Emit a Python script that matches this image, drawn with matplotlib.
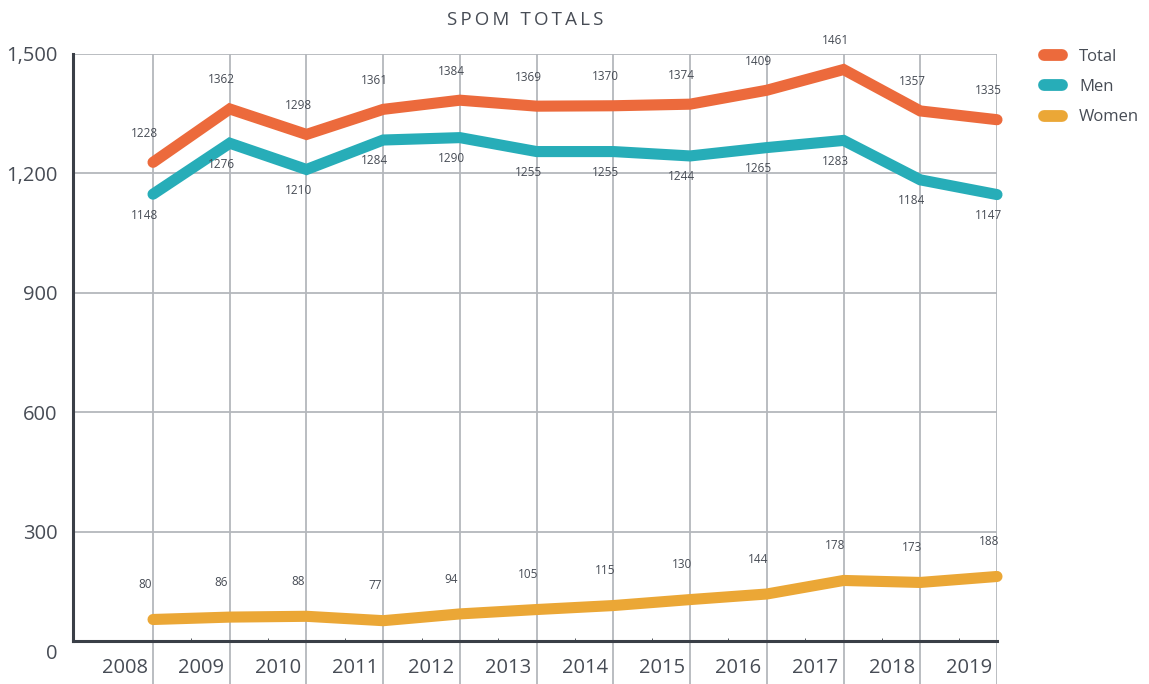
import numpy as np
import matplotlib
matplotlib.use("Agg")
import matplotlib.pyplot as plt
from matplotlib.lines import Line2D

years = [2008, 2009, 2010, 2011, 2012, 2013, 2014, 2015, 2016, 2017, 2018, 2019]
total = [1228, 1362, 1298, 1361, 1384, 1369, 1370, 1374, 1409, 1461, 1357, 1335]
men = [1148, 1276, 1210, 1284, 1290, 1255, 1255, 1244, 1265, 1283, 1184, 1147]
women = [80, 86, 88, 77, 94, 105, 115, 130, 144, 178, 173, 188]
y_ticks = [0, 300, 600, 900, 1200, 1500]

c_total = "#ec6a3c"
c_men = "#27adb8"
c_women = "#eba736"
txt = "#474c55"
grid = "#b4b7bc"

plt.rcParams['font.family'] = ['Open Sans', 'DejaVu Sans']

fig = plt.figure(figsize=(11.49, 6.84), dpi=100)
ax = fig.add_axes([73 / 1149, 0.0, 924 / 1149, 630 / 684])
ax.set_xlim(2008 - 80 / 76.7, 2019)
ax.set_ylim(-82, 1500)

# grid
for yv in y_ticks[1:]:
    ax.axhline(yv, color=grid, lw=1.3, zorder=1)
for x in years:
    ax.axvline(x, color=grid, lw=1.3, zorder=1)

for s in ["top", "right"]:
    ax.spines[s].set_visible(False)
ax.spines["left"].set_color("#3a3f47")
ax.spines["left"].set_linewidth(2.2)
ax.spines["left"].set_bounds(26, 1500)
ax.spines["bottom"].set_position(("data", 26))
ax.spines["bottom"].set_color("#3a3f47")
ax.spines["bottom"].set_linewidth(2.2)

ax.set_yticks(y_ticks)
ax.set_yticklabels(["0", "300", "600", "900", "1,200", "1,500"])
ax.tick_params(axis="y", length=0, pad=11, labelsize=14.5, labelcolor=txt)
ax.set_xticks([y + 0.5 for y in years[:-1]], minor=True)
ax.set_xticks([])
ax.tick_params(axis="x", which="minor", length=2, direction="in", color="#3a3f47", labelbottom=False)

for y in years:
    ax.text(y - 0.37, 0.026, str(y), transform=ax.get_xaxis_transform(),
            ha="center", va="center", fontsize=14.5, color=txt)

# lines
for vals, col in [(women, c_women), (men, c_men), (total, c_total)]:
    ax.plot(years, vals, color=col, lw=8, solid_capstyle="round",
            solid_joinstyle="miter", zorder=3, clip_on=False)

for x, v in zip(years, total):
    ax.annotate(str(v), (x, v), xytext=(-6, 21), textcoords="offset points",
                ha="center", va="center", fontsize=8.5, color=txt)
for x, v in zip(years, men):
    ax.annotate(str(v), (x, v), xytext=(-6, -15), textcoords="offset points",
                ha="center", va="center", fontsize=8.5, color=txt)
for x, v in zip(years, women):
    ax.annotate(str(v), (x, v), xytext=(-6, 25), textcoords="offset points",
                ha="center", va="center", fontsize=8.5, color=txt)

fig.text(525 / 1149, 1 - 20 / 684, "\u2009".join("SPOM TOTALS"),
         ha="center", va="center", fontsize=13.5, color=txt)

handles = [Line2D([0], [0], color=c, lw=8.5, solid_capstyle="round") for c in [c_total, c_men, c_women]]
fig.legend(handles, ["Total", "Men", "Women"], loc="upper left",
           bbox_to_anchor=(1029 / 1149, 1 - 34 / 684), frameon=False,
           fontsize=12, labelcolor=txt, handlelength=1.1, handletextpad=1.0,
           labelspacing=0.85)

fig.savefig("out.png", dpi=100)
